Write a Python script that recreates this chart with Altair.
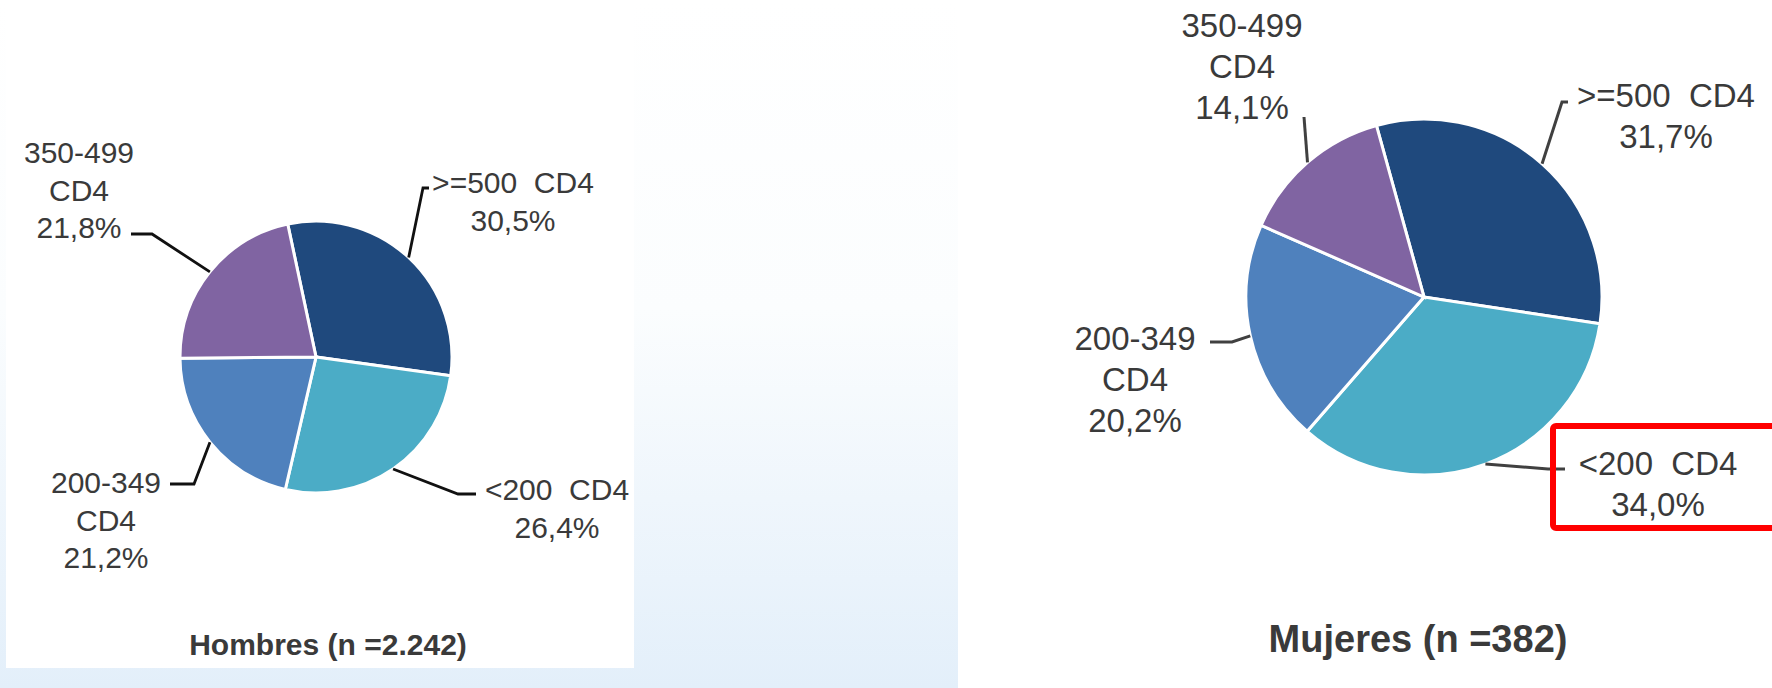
import math
import altair as alt
import pandas as pd

# ---------------- data ----------------
categories = [">=500 CD4", "<200 CD4", "200-349 CD4", "350-499 CD4"]
label_names = [">=500 \u00a0CD4", "<200 \u00a0CD4", "200-349\nCD4", "350-499\nCD4"]
hombres_pct = [30.5, 26.4, 21.2, 21.8]
mujeres_pct = [31.7, 34.0, 20.2, 14.1]
panel_titles = ["Hombres (n =2.242)", "Mujeres (n =382)"]
colors = ["#1F497D", "#4BACC6", "#4F81BD", "#8064A2"]

W, H = 1772, 688

# ---------------- layout (positions / styles only) ----------------
layout = {
    "Hombres": dict(
        values=hombres_pct, title=panel_titles[0],
        cx=316, cy=357, r=136, start_deg=-12,
        font=30, lh=37.5, title_font=30, title_xy=(328, 655),
        line_color="#111111", line_w=2.8,
        # per category: label anchor (center x, first baseline), elbow, end
        labels=[(513, 193), (557, 500), (106, 493), (79, 163)],
        elbows=[(423, 188), (458, 494), (194, 484), (152, 234)],
        ends=[(429, 188), (476, 494), (170, 484), (131, 234)],
    ),
    "Mujeres": dict(
        values=mujeres_pct, title=panel_titles[1],
        cx=1424, cy=297, r=178, start_deg=-15.5,
        font=33, lh=41, title_font=38, title_xy=(1418, 652),
        line_color="#404040", line_w=3,
        labels=[(1666, 107), (1658, 475), (1135, 350), (1242, 37)],
        elbows=[(1562, 102), (1548, 469), (1232, 342), (1304, 117)],
        ends=[(1568, 102), (1565, 469), (1210, 342), (1304, 117)],
    ),
}

xs = alt.Scale(domain=[0, W], nice=False, zero=False)
ys = alt.Scale(domain=[0, H], nice=False, zero=False, reverse=True)

def fmt(v):
    return f"{v:.1f}".replace(".", ",") + "%"

layers = []

# background gradient
bg = alt.Chart(pd.DataFrame({"a": [0]})).mark_rect(
    fill=alt.Gradient(
        gradient="linear", x1=0, y1=0, x2=0, y2=1,
        stops=[alt.GradientStop(offset=0, color="#FFFFFF"),
               alt.GradientStop(offset=0.45, color="#FBFDFE"),
               alt.GradientStop(offset=1, color="#E3EFFA")],
    )
).encode(x=alt.value(0), x2=alt.value(W), y=alt.value(0), y2=alt.value(H))
layers.append(bg)

panels = pd.DataFrame({"x": [6, 958], "x2": [634, W], "y": [0, 0], "y2": [668, H]})
layers.append(
    alt.Chart(panels).mark_rect(fill="white").encode(
        x=alt.X("x:Q", scale=xs, axis=None), x2="x2:Q",
        y=alt.Y("y:Q", scale=ys, axis=None), y2="y2:Q")
)

for name, L in layout.items():
    vals = L["values"]
    df = pd.DataFrame({"cat": categories, "pct": vals, "idx": list(range(4))})
    a0 = math.radians(L["start_deg"]) + 2 * math.pi
    pie = alt.Chart(df).mark_arc(
        radius=L["r"], stroke="white", strokeWidth=3
    ).encode(
        x=alt.datum(L["cx"], scale=xs, axis=None),
        y=alt.datum(L["cy"], scale=ys, axis=None),
        theta=alt.Theta("pct:Q", stack=True,
                        scale=alt.Scale(range=[a0, a0 + 2 * math.pi])),
        color=alt.Color("cat:N", scale=alt.Scale(domain=categories, range=colors), legend=None),
        order=alt.Order("idx:Q"),
    )
    layers.append(pie)

    # leader lines: edge point at slice mid-angle -> elbow -> end
    total = sum(vals)
    rows = []
    cum = 0.0
    for i, v in enumerate(vals):
        mid = math.radians(L["start_deg"]) + 2 * math.pi * (cum + v / 2) / total
        cum += v
        ex = L["cx"] + L["r"] * math.sin(mid)
        ey = L["cy"] - L["r"] * math.cos(mid)
        pts = [(ex, ey), L["elbows"][i], L["ends"][i]]
        for j, (px, py) in enumerate(pts):
            rows.append({"cat": categories[i], "seq": j, "x": px, "y": py})
    ld = pd.DataFrame(rows)
    layers.append(
        alt.Chart(ld).mark_line(color=L["line_color"], strokeWidth=L["line_w"]).encode(
            x=alt.X("x:Q", scale=xs, axis=None),
            y=alt.Y("y:Q", scale=ys, axis=None),
            detail="cat:N", order="seq:Q")
    )

    td = pd.DataFrame({
        "txt": [f"{label_names[i]}\n{fmt(vals[i])}" for i in range(4)],
        "x": [p[0] for p in L["labels"]],
        "y": [p[1] for p in L["labels"]],
    })
    layers.append(
        alt.Chart(td).mark_text(
            font="Liberation Sans", fontSize=L["font"], lineHeight=L["lh"],
            lineBreak="\n", align="center", baseline="alphabetic", color="#3A3A3A"
        ).encode(x=alt.X("x:Q", scale=xs, axis=None),
                 y=alt.Y("y:Q", scale=ys, axis=None), text="txt:N")
    )

    tt = pd.DataFrame({"t": [L["title"]], "x": [L["title_xy"][0]], "y": [L["title_xy"][1]]})
    layers.append(
        alt.Chart(tt).mark_text(
            font="Liberation Sans", fontSize=L["title_font"], fontWeight="bold",
            align="center", baseline="alphabetic", color="#3A3A3A"
        ).encode(x=alt.X("x:Q", scale=xs, axis=None),
                 y=alt.Y("y:Q", scale=ys, axis=None), text="t:N")
    )

# red highlight box
box = pd.DataFrame({"x": [1553], "x2": [1795], "y": [426], "y2": [528]})
layers.append(
    alt.Chart(box).mark_rect(filled=False, stroke="#FF0000", strokeWidth=6, cornerRadius=3).encode(
        x=alt.X("x:Q", scale=xs, axis=None), x2="x2:Q",
        y=alt.Y("y:Q", scale=ys, axis=None), y2="y2:Q")
)

chart = alt.layer(*layers).resolve_scale(theta="independent").properties(
    width=W, height=H, padding=0, autosize=alt.AutoSizeParams(type="none")
).configure_view(stroke=None).configure(background="white")

chart.save("out.html", embed_options={"renderer": "svg", "actions": False})
